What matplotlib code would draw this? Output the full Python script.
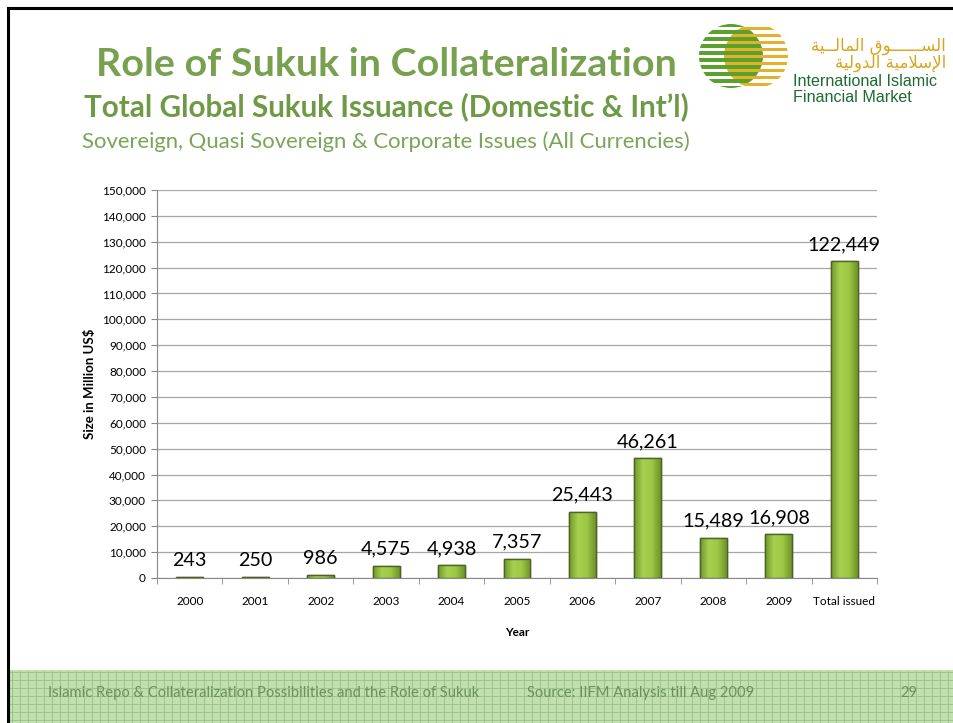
import numpy as np
import matplotlib.pyplot as plt
from matplotlib.patches import Circle, Rectangle
from matplotlib.lines import Line2D
from matplotlib.colors import LinearSegmentedColormap

categories = ['2000', '2001', '2002', '2003', '2004', '2005', '2006',
              '2007', '2008', '2009', 'Total issued']
values = [243, 250, 986, 4575, 4938, 7357, 25443, 46261, 15489, 16908, 122449]
y_ticks = np.arange(0, 150001, 10000)

FONT = 'Lato'
W, H = 954, 723

fig = plt.figure(figsize=(W / 100, H / 100), dpi=100)
fig.patch.set_facecolor('white')

# slide border (top + left)
fig.add_artist(Line2D([8 / W, 1], [1 - 8 / H, 1 - 8 / H], color='black', lw=2.2,
                      transform=fig.transFigure))
fig.add_artist(Line2D([8 / W, 8 / W], [0, 1 - 8 / H], color='black', lw=2.2,
                      transform=fig.transFigure))

# footer band with a grid pattern
fig.add_artist(Rectangle((9 / W, 0), 1, 53 / H, transform=fig.transFigure,
                         facecolor='#c2dfb0', edgecolor='none', zorder=0))
for xp in np.arange(12, W, 8):
    fig.add_artist(Line2D([xp / W, xp / W], [0, 52 / H], color='#94c383', lw=0.6,
                          transform=fig.transFigure, zorder=0))
for yp in np.arange(3, 53, 8):
    fig.add_artist(Line2D([9 / W, 1], [yp / H, yp / H], color='#94c383', lw=0.6,
                          transform=fig.transFigure, zorder=0))
foot_col = '#6f8f5c'
fig.text(48 / W, 1 - 693 / H, 'Islamic Repo & Collateralization Possibilities and the Role of Sukuk',
         fontsize=10.6, color=foot_col, family=FONT, va='center', ha='left')
fig.text(527 / W, 1 - 693 / H, 'Source: IIFM Analysis till Aug 2009',
         fontsize=10.6, color=foot_col, family=FONT, va='center', ha='left')
fig.text(909 / W, 1 - 693 / H, '29', fontsize=10.6, color=foot_col, family=FONT,
         va='center', ha='center')

# titles
fig.text(386 / W, 1 - 64 / H, 'Role of Sukuk in Collateralization', fontsize=28.4,
         fontweight='bold', color='#77a04f', family=FONT, ha='center', va='center')
fig.text(386 / W, 1 - 107 / H, 'Total Global Sukuk Issuance (Domestic & Int\u2019l)',
         fontsize=21.3, fontweight='bold', color='#6e9a45', family=FONT,
         ha='center', va='center')
fig.text(386 / W, 1 - 142 / H, 'Sovereign, Quasi Sovereign & Corporate Issues (All Currencies)',
         fontsize=15.9, color='#7aa556', family=FONT, ha='center', va='center')

# logo
lax = fig.add_axes([690 / W, 1 - 95 / H, 105 / W, 75 / H])
lax.set_xlim(690, 795)
lax.set_ylim(95, 20)
lax.set_aspect('equal')
lax.axis('off')
for cx, col, off in [(731, '#5aa02c', 0), (756, '#e3b22a', 3.5)]:
    circ = Circle((cx, 56), 32, transform=lax.transData, facecolor='none', edgecolor='none')
    lax.add_patch(circ)
    for yy in np.arange(23 + off, 90, 7):
        r = lax.add_patch(Rectangle((cx - 33, yy), 66, 3.6, facecolor=col, edgecolor='none'))
        r.set_clip_path(circ)

arabic1 = '\uFE94\uFEF4\u0640\u0640\uFEDF\uFE8E\uFEE4\uFEDF\uFE8D \uFED5\uFEEE\u0640\u0640\u0640\u0640\u0640\u0640\uFEB4\uFEDF\uFE8D'
arabic2 = '\uFE94\uFEF4\uFEDF\uFEED\uFEAA\uFEDF\uFE8D \uFE94\uFEF4\uFEE3\uFEFC\uFEB3\uFEF9\uFE8D'
fig.text(946 / W, 1 - 46 / H, arabic1, fontsize=12, color='#d9a520',
         family='DejaVu Sans', ha='right', va='center')
fig.text(946 / W, 1 - 63 / H, arabic2, fontsize=12, color='#d9a520',
         family='DejaVu Sans', ha='right', va='center')
fig.text(793 / W, 1 - 81 / H, 'International Islamic', fontsize=11.6, color='#1d6b31',
         family='Liberation Sans', ha='left', va='center')
fig.text(793 / W, 1 - 97 / H, 'Financial Market', fontsize=11.6, color='#1d6b31',
         family='Liberation Sans', ha='left', va='center')

# chart
ax = fig.add_axes([157 / W, 1 - 578 / H, 720 / W, 388 / H])
x = np.arange(len(categories))
bw = 0.41
bars = ax.bar(x, values, width=bw, color='#9ccb42', edgecolor='#4f6228', linewidth=1.0,
              zorder=3)

# horizontal gradient inside each bar
grad = np.linspace(0, 1, 64).reshape(1, -1)
cmap = LinearSegmentedColormap.from_list('g', ['#6f9a2a', '#a6d04e', '#9cc845', '#6e9327'])
for b in bars:
    bx, bwid, bh = b.get_x(), b.get_width(), b.get_height()
    im = ax.imshow(grad, cmap=cmap, aspect='auto', extent=[bx, bx + bwid, 0, bh],
                   zorder=3.5, interpolation='bicubic')
    im.set_clip_path(b)
    ax.add_patch(Rectangle((bx, 0), bwid, bh, facecolor='none', edgecolor='#4f6228',
                           linewidth=1.0, zorder=4))

for xi, v in zip(x, values):
    ax.annotate(f'{v:,}', (xi, v), xytext=(0, 6), textcoords='offset points',
                ha='center', va='bottom', fontsize=14.2, family=FONT, color='black',
                zorder=5)

ax.set_xlim(-0.5, len(categories) - 0.5)
ax.set_ylim(0, 150000)
ax.set_yticks(y_ticks)
ax.set_yticklabels([f'{t:,}' for t in y_ticks], fontsize=8.5, family=FONT)
ax.set_xticks(x)
ax.set_xticklabels(categories, fontsize=8.5, family=FONT)
ax.set_xticks(np.arange(-0.5, len(categories), 1), minor=True)
ax.tick_params(axis='x', which='major', length=0, pad=13)
ax.tick_params(axis='x', which='minor', length=4, color='#888888', direction='out')
ax.tick_params(axis='y', length=4, color='#888888', direction='out', pad=4)
ax.grid(axis='y', color='#a6a6a6', linewidth=0.9, zorder=0)
ax.set_axisbelow(True)
for s in ['top', 'right']:
    ax.spines[s].set_visible(False)
ax.spines['left'].set_color('#888888')
ax.spines['bottom'].set_color('#888888')
ax.set_ylabel('Size in Million US$', fontsize=9.5, fontweight='bold', family=FONT,
              labelpad=4)
ax.set_xlabel('Year', fontsize=8.5, fontweight='bold', family=FONT, labelpad=14)

fig.savefig('out.png', dpi=100)
